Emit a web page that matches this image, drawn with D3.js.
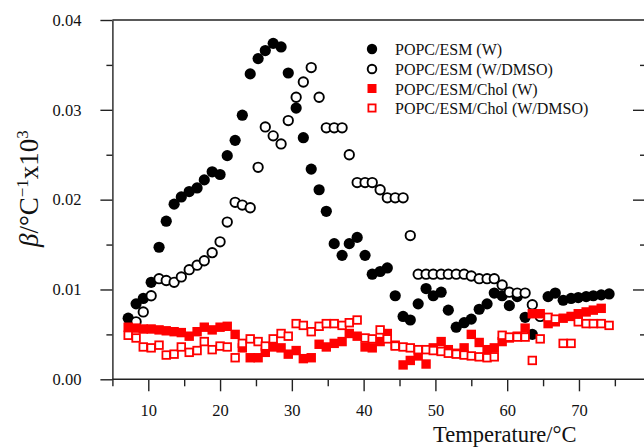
<!DOCTYPE html>
<html><head><meta charset="utf-8">
<script src="https://cdn.jsdelivr.net/npm/d3@7"></script>
<style>html,body{margin:0;padding:0;background:#fff;}svg{display:block;}</style>
</head><body>
<svg id="chart" width="644" height="448"></svg>
<script>
const temps = [7.2,8.3,9.3,10.4,11.5,12.5,13.6,14.6,15.7,16.8,17.8,18.9,20.0,21.0,22.1,23.1,24.2,25.3,26.3,27.4,28.5,29.5,30.6,31.6,32.7,33.8,34.8,35.9,37.0,38.0,39.1,40.2,41.2,42.3,43.3,44.4,45.5,46.5,47.6,48.7,49.7,50.8,51.8,52.9,54.0,55.0,56.1,57.2,58.2,59.3,60.3,61.4,62.5,63.5,64.6,65.7,66.7,67.8,68.9,69.9,71.0,72.0,73.1,74.2];
const popcEsmW = [0.0068,0.0084,0.0090,0.0108,0.0147,0.0176,0.0195,0.0203,0.0209,0.0213,0.0222,0.0231,0.0228,0.0249,0.0266,0.0294,0.0340,0.0357,0.0366,0.0374,0.0370,0.0341,0.0302,0.0269,0.0234,0.0211,0.0187,0.0151,0.0138,0.0151,0.0158,0.0138,0.0117,0.0120,0.0124,0.0093,0.0070,0.0066,0.0084,0.0101,0.0093,0.0097,0.0077,0.0058,0.0063,0.0067,0.0078,0.0084,0.0096,0.0093,0.0082,0.0092,0.0069,0.0050,null,0.0092,0.0096,0.0088,0.0090,0.0091,0.0092,0.0093,0.0094,0.0095];
const popcEsmDmso = [null,0.0064,0.0075,0.0093,0.0112,0.0110,0.0108,0.0114,0.0122,0.0127,0.0132,0.0141,0.0153,0.0175,0.0197,0.0194,0.0191,0.0236,0.0281,0.0271,0.0262,0.0288,0.0314,0.0331,0.0347,0.0314,0.0280,0.0280,0.0280,0.0250,0.0219,0.0219,0.0219,0.0211,0.0202,0.0202,0.0202,0.0160,0.0117,0.0117,0.0117,0.0117,0.0117,0.0117,0.0117,0.0115,0.0112,0.0112,0.0112,0.0105,0.0097,0.0096,0.0096,0.0083,0.0070,null,null,null,null,null,null,null,null,null];
const cholW = [0.0058,0.0057,0.0056,0.0056,0.0055,0.0054,0.0053,0.0052,0.0048,0.0053,0.0058,0.0055,0.0058,0.0059,0.0050,0.0035,0.0024,0.0024,0.0030,0.0036,0.0035,0.0028,0.0032,0.0023,0.0024,0.0039,0.0036,0.0040,0.0042,0.0051,0.0048,0.0036,0.0035,0.0042,0.0051,0.0038,0.0016,0.0021,0.0026,0.0017,0.0035,0.0042,0.0033,0.0029,0.0035,0.0050,0.0041,0.0033,0.0035,0.0042,0.0046,0.0048,0.0057,0.0073,0.0073,0.0062,0.0064,0.0068,0.0070,0.0073,0.0075,0.0077,0.0079,null];
const cholDmso = [0.0049,0.0046,0.0036,0.0035,0.0038,0.0027,0.0028,0.0036,0.0030,0.0032,0.0042,0.0033,0.0037,0.0036,0.0024,0.0040,0.0045,0.0042,0.0037,0.0045,0.0051,0.0048,0.0062,0.0060,0.0053,0.0059,0.0062,0.0062,0.0060,0.0063,0.0066,0.0046,0.0045,0.0055,0.0045,0.0037,0.0036,0.0035,0.0033,0.0033,0.0032,0.0031,0.0029,0.0028,0.0027,0.0026,0.0025,0.0024,0.0025,0.0049,0.0047,0.0047,0.0047,0.0021,0.0045,0.0069,0.0067,0.0040,0.0040,0.0064,0.0062,0.0062,0.0062,0.0060];
const seriesNames = ["POPC/ESM (W)","POPC/ESM (W/DMSO)","POPC/ESM/Chol (W)","POPC/ESM/Chol (W/DMSO)"];
const xTickValues = [10,20,30,40,50,60,70];
const xMinorValues = [5,15,25,35,45,55,65,75];
const yTickValues = [0,0.01,0.02,0.03,0.04];
const yMinorValues = [0.005,0.015,0.025,0.035];

(function () {
const svg = d3.select("#chart");
const pL = 112.4, pR = 645, pT = 20, pB = 379.3;
const x = d3.scaleLinear().domain([5, 79.2]).range([pL, pR]);
const y = d3.scaleLinear().domain([0, 0.04]).range([pB, pT]);
const axisColor = "#222";
const font = "'Liberation Serif','Times New Roman',serif";

svg.append("line").attr("x1", pL).attr("x2", 650).attr("y1", pT).attr("y2", pT)
  .attr("stroke", axisColor).attr("stroke-width", 1.4);

const xAxis = svg.append("g").attr("transform", `translate(0,${pB})`)
  .call(d3.axisBottom(x).tickValues(xTickValues).tickSize(12).tickSizeOuter(0).tickPadding(13).tickFormat(d3.format("d")));
svg.append("g").attr("transform", `translate(0,${pB})`)
  .call(d3.axisBottom(x).tickValues(xMinorValues).tickSize(7).tickSizeOuter(0).tickFormat(""))
  .select(".domain").remove();
xAxis.select(".domain").attr("d", `M${pL},0H650`);

svg.append("g").attr("transform", `translate(${pL},0)`)
  .call(d3.axisLeft(y).tickValues(yTickValues).tickSize(12).tickSizeOuter(0).tickPadding(19).tickFormat(d3.format(".2f")));
svg.append("g").attr("transform", `translate(${pL},0)`)
  .call(d3.axisLeft(y).tickValues(yMinorValues).tickSize(6).tickSizeOuter(0).tickFormat(""))
  .select(".domain").remove();

svg.append("g").attr("transform", `translate(${pR},0)`)
  .call(d3.axisLeft(y).tickValues(yTickValues.slice(1,4)).tickSize(12).tickSizeOuter(0).tickFormat(""));
svg.append("g").attr("transform", `translate(${pR},0)`)
  .call(d3.axisLeft(y).tickValues(yMinorValues).tickSize(5).tickSizeOuter(0).tickFormat(""))
  .select(".domain").remove();

svg.selectAll(".domain, .tick line").attr("stroke", axisColor).attr("stroke-width", 1.4);
svg.selectAll(".tick text").attr("font-family", font).attr("font-size", 16.5).attr("fill", "#111");

svg.append("text").attr("x", 433).attr("y", 442).attr("font-family", font).attr("font-size", 22.5)
  .attr("fill", "#111").text("Temperature/°C");
const yt = svg.append("text").attr("transform", "translate(38,247) rotate(-90)")
  .attr("font-family", font).attr("font-size", 27).attr("fill", "#111");
yt.append("tspan").attr("font-style", "italic").text("β");
yt.append("tspan").text("/°C");
yt.append("tspan").attr("font-size", 17).attr("dy", -10).text("−1");
yt.append("tspan").attr("dy", 10).text("x10");
yt.append("tspan").attr("font-size", 17).attr("dy", -10).text("3");

function pts(vals) {
  return temps.map((t, i) => ({t, v: vals[i]})).filter(d => d.v !== null && d.v !== undefined);
}
const red = "#ff0000";
svg.append("g").selectAll("circle").data(pts(popcEsmW)).join("circle")
  .attr("cx", d => x(d.t)).attr("cy", d => y(d.v)).attr("r", 5.6).attr("fill", "#000");
svg.append("g").selectAll("circle").data(pts(popcEsmDmso)).join("circle")
  .attr("cx", d => x(d.t)).attr("cy", d => y(d.v)).attr("r", 4.7).attr("fill", "#fff")
  .attr("stroke", "#000").attr("stroke-width", 1.9);
svg.append("g").selectAll("rect").data(pts(cholW)).join("rect")
  .attr("x", d => x(d.t) - 4.7).attr("y", d => y(d.v) - 4.7).attr("width", 9.4).attr("height", 9.4).attr("fill", red);
svg.append("g").selectAll("rect").data(pts(cholDmso)).join("rect")
  .attr("x", d => x(d.t) - 3.8).attr("y", d => y(d.v) - 3.8).attr("width", 7.6).attr("height", 7.6)
  .attr("fill", "#fff").attr("stroke", red).attr("stroke-width", 1.8);

const lg = svg.append("g");
const rows = [49, 69, 88.5, 108];
lg.append("circle").attr("cx", 372).attr("cy", rows[0]).attr("r", 5.2).attr("fill", "#000");
lg.append("circle").attr("cx", 372).attr("cy", rows[1]).attr("r", 4.3).attr("fill", "#fff").attr("stroke", "#000").attr("stroke-width", 1.9);
lg.append("rect").attr("x", 372 - 4.5).attr("y", rows[2] - 4.5).attr("width", 9).attr("height", 9).attr("fill", red);
lg.append("rect").attr("x", 372 - 3.6).attr("y", rows[3] - 3.6).attr("width", 7.2).attr("height", 7.2).attr("fill", "#fff").attr("stroke", red).attr("stroke-width", 1.8);
lg.selectAll("text").data(seriesNames).join("text")
  .attr("x", 395).attr("y", (d, i) => rows[i] + 6).attr("font-family", font).attr("font-size", 16).attr("fill", "#111").text(d => d);
})();
</script>
</body></html>
